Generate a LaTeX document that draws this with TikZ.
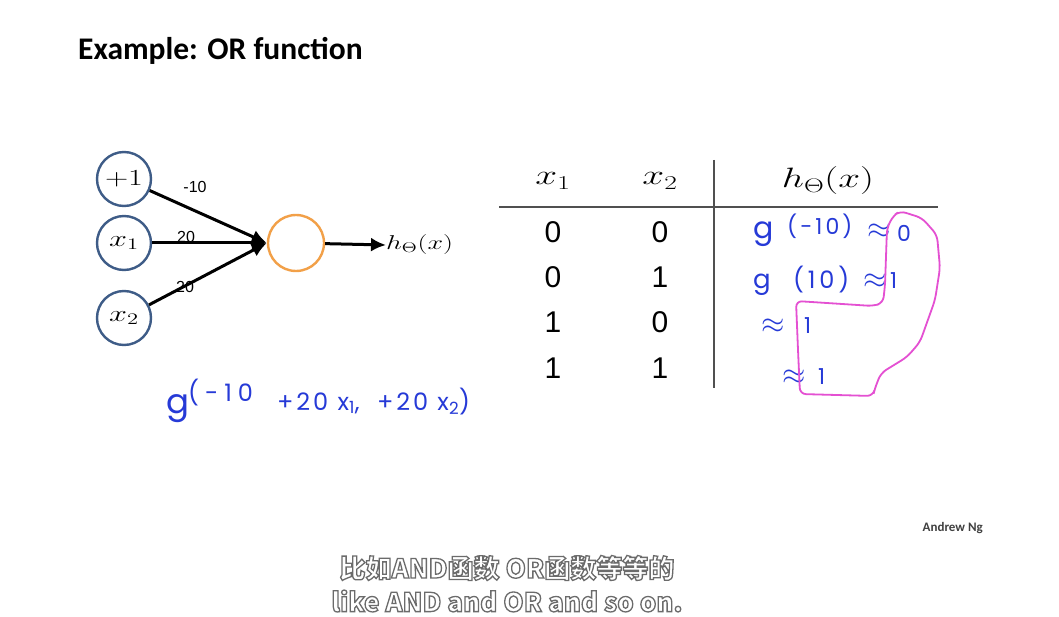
\RequirePackage{fix-cm}
\documentclass[tikz,border=0pt]{standalone}
\usepackage{fontspec}
\usetikzlibrary{arrows.meta}
\setmainfont{Liberation Sans}
\newfontfamily\titlefont{Carlito}
\newfontfamily\handfont{Poppins}
\newfontfamily\cjkfont{Noto Sans CJK SC}
\definecolor{incol}{RGB}{62,92,135}
\definecolor{outcol}{RGB}{242,160,72}
\definecolor{ink}{RGB}{38,58,215}
\definecolor{pen}{RGB}{228,80,210}
\definecolor{rule}{RGB}{80,80,80}
% white letters with a grey stroked outline (text render mode 2)
\newcommand\outlined[1]{\special{pdf:literal direct 2 Tr 1.3 w 0.42 G}#1\special{pdf:literal direct 0 Tr}}
\newcommand\wide[1]{\scalebox{1.4}[1]{#1}}
\newcommand\fsz[1]{\fontsize{#1}{#1}\selectfont}
\newcommand\cellbox[2]{\makebox[#1][l]{#2}}
\newcommand\appr{{\fsz{30}$\approx$}}
\newcommand\spaced[2]{{\addfontfeature{LetterSpace=#1}#2}}
\tikzset{
  inp/.style={circle, draw=incol, line width=2.4pt, minimum size=54pt, inner sep=0pt, font=\fsz{23}},
  outn/.style={circle, draw=outcol, line width=2.4pt, minimum size=56pt, inner sep=0pt},
  arr/.style={line width=3pt, -{Latex[length=15pt,width=14pt]}},
  wlabel/.style={font=\fsz{16}, inner sep=0pt},
  cell/.style={font=\fsz{30}, inner sep=0pt},
  hand/.style={text=ink, font=\handfont\fsz{22}, inner sep=0pt, anchor=base west},
  subline/.style={font=\cjkfont\bfseries\fsz{26}, text=white, inner sep=0pt},
}
\begin{document}
\begin{tikzpicture}[x=1pt, y=-1pt]
\useasboundingbox[fill=white] (0,0) rectangle (1059,617);

% title
\node[anchor=base west, inner sep=0pt, font=\titlefont\bfseries\fsz{31.5}] (title) at (78,60) {Example: OR function};

% single neuron
\node[inp] (b)  at (124,179) {\wide{$+1$}};
\node[inp] (x1) at (124,243) {\wide{$x_1$}};
\node[inp] (x2) at (124,318) {\wide{$x_2$}};
\node[outn] (o) at (296,243) {};
\node[anchor=west, inner sep=0pt, font=\fsz{20}] (h) at (386,245) {\wide{$h_\Theta(x)$}};

\draw[arr] (b)  -- (o.west);
\draw[arr] (x1) -- (o.west);
\draw[arr] (x2) -- (o.west);
\draw[arr] (o)  -- (h.west);

\node[wlabel] (w0) at (195,187) {-10};
\node[wlabel] (w1) at (186,237) {20};
\node[wlabel] (w2) at (185,287) {20};

% hand-written weighted sum
\node[hand] (gsum) at (166,413) {\cellbox{22pt}{\fsz{34}g}\cellbox{89pt}{\raisebox{12pt}{\fsz{24}\spaced{25}{(-10}}}\cellbox{100pt}{\raisebox{3pt}{\fsz{24}\spaced{12}{+20 x}\textsubscript{1},}}\raisebox{3pt}{\fsz{24}\spaced{12}{+20 x}\textsubscript{2})}};

% truth table
\node[font=\fsz{28}, inner sep=0pt] (hx1) at (553,181) {\wide{$x_1$}};
\node[font=\fsz{28}, inner sep=0pt] (hx2) at (660,181) {\wide{$x_2$}};
\node[font=\fsz{28}, inner sep=0pt] (hh)  at (828,181) {\wide{$h_\Theta(x)$}};
\draw[rule, line width=1.5pt] (499,207) -- (938,207);
\draw[rule, line width=1.5pt] (714,160) -- (714,388);

\node[cell] (a1) at (553,232) {0}; \node[cell] (b1) at (660,232) {0};
\node[cell] (a2) at (553,277) {0}; \node[cell] (b2) at (660,277) {1};
\node[cell] (a3) at (553,322) {1}; \node[cell] (b3) at (660,322) {0};
\node[cell] (a4) at (553,368) {1}; \node[cell] (b4) at (660,368) {1};

% hand-written outputs
\node[hand] (g1) at (753,239) {\cellbox{34pt}{\fsz{30}g}\cellbox{80pt}{\raisebox{4pt}{\fsz{22}\spaced{14}{(-10)}}}\cellbox{30pt}{\appr}\raisebox{-3pt}{0}};
\node[hand] (g2) at (753,289) {\cellbox{40pt}{\fsz{26}g}\cellbox{70pt}{\fsz{24}\spaced{16}{(10)}}\cellbox{27pt}{\appr}1};
\node[hand] (g3) at (761,333) {\cellbox{43pt}{\appr}1};
\node[hand] (g4) at (782,384) {\cellbox{36pt}{\appr}1};

% magenta loop around the outputs
\draw[pen, line width=1.8pt, rounded corners=6pt]
  (900,211) -- (922,218) -- (937,235) -- (940,268) -- (935,300) -- (920,342)
  -- (907,357) -- (881,373) -- (875,388) -- (873,396) -- (800,394)
  -- (798,350) -- (796,301) -- (873,306) -- (883,303) -- (885,285)
  -- (887,228) -- (893,216) -- cycle;

% footer
\node[anchor=base east, inner sep=0pt, font=\titlefont\bfseries\fsz{13}, text=black!75] (author) at (983,531) {Andrew Ng};

% subtitles
\node[subline] (sub1) at (507,568) {\outlined{比如AND函数 OR函数等等的}};
\node[subline] (sub2) at (507,601) {\outlined{like AND and OR and so on.}};
\end{tikzpicture}
\end{document}
